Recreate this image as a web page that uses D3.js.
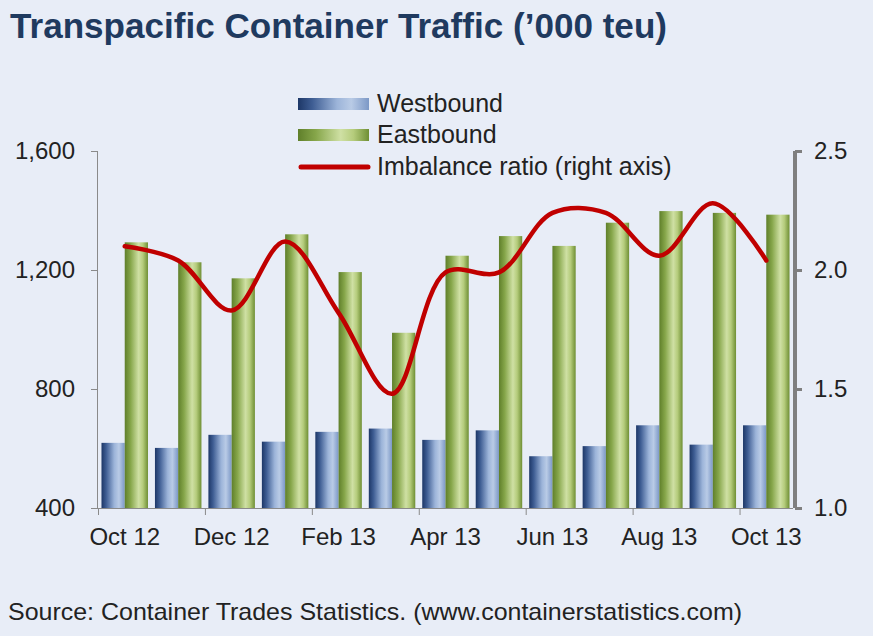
<!DOCTYPE html>
<html>
<head>
<meta charset="utf-8">
<script src="https://cdn.jsdelivr.net/npm/d3@7"></script>
<style>
  html, body { margin: 0; padding: 0; background: #e8edf7; }
  svg { display: block; font-family: "Liberation Sans", Arial, sans-serif; }
</style>
</head>
<body>
<div id="chart"></div>
<script>
var months = ["Oct 12", "Nov 12", "Dec 12", "Jan 13", "Feb 13", "Mar 13", "Apr 13",
              "May 13", "Jun 13", "Jul 13", "Aug 13", "Sep 13", "Oct 13"];
var westbound = [619, 602, 646, 623, 656, 667, 629, 661, 574, 608, 678, 613, 678];
var eastbound = [1293, 1226, 1172, 1320, 1193, 989, 1248, 1314, 1281, 1359, 1398, 1392, 1386];
var ratio = [2.10, 2.04, 1.83, 2.12, 1.82, 1.48, 1.99, 1.99, 2.24, 2.24, 2.06, 2.28, 2.04];
var leftTicks = [400, 800, 1200, 1600];
var rightTicks = [1.0, 1.5, 2.0, 2.5];
var series = ["Westbound", "Eastbound"];

var width = 873, height = 636;
var margin = {top: 151, right: 80, bottom: 128, left: 98},
    plotW = width - margin.left - margin.right,
    plotH = height - margin.top - margin.bottom;

var svg = d3.select("#chart")
  .append("svg")
    .attr("width", width)
    .attr("height", height);

svg.append("rect")
    .attr("width", width)
    .attr("height", height)
    .attr("fill", "#e8edf7");

// gradients for the bars
var defs = svg.append("defs");
function gradient(id, stops) {
  var g = defs.append("linearGradient")
      .attr("id", id)
      .attr("x1", "0%").attr("x2", "100%")
      .attr("y1", "0%").attr("y2", "0%");
  stops.forEach(function(s) {
    g.append("stop").attr("offset", s[0]).attr("stop-color", s[1]);
  });
}
gradient("gradW", [["0%", "#1d3767"], ["20%", "#3e5d93"], ["55%", "#9cb4d9"], ["75%", "#b9cbe6"], ["100%", "#7c98c6"]]);
gradient("gradE", [["0%", "#5f7f2a"], ["25%", "#86a64a"], ["60%", "#cfe0a4"], ["78%", "#b5cc7c"], ["100%", "#6f8f34"]]);

svg.append("text")
    .attr("x", 10)
    .attr("y", 38)
    .attr("font-weight", 700)
    .attr("fill", "#1f3a5f")
    .style("font-size", "35px")
    .attr("textLength", 657)
    .attr("lengthAdjust", "spacingAndGlyphs")
    .text("Transpacific Container Traffic (\u2019000 teu)");

var g = svg.append("g")
    .attr("transform", "translate(" + margin.left + "," + margin.top + ")");

var x = d3.scaleBand()
  .domain(months)
  .range([0, plotW])
  .padding(0);

var xSub = d3.scaleBand()
  .domain(series)
  .range([0, x.bandwidth()])
  .paddingInner(0)
  .paddingOuter(0.15);

var y = d3.scaleLinear()
  .domain([400, 1600])
  .range([plotH, 0]);

var y2 = d3.scaleLinear()
  .domain([1.0, 2.5])
  .range([plotH, 0]);

// bars
var groups = g.selectAll("g.month")
  .data(months)
  .enter()
  .append("g")
    .attr("class", "month")
    .attr("transform", function(d) { return "translate(" + x(d) + ",0)"; });

groups.append("rect")
    .attr("x", xSub("Westbound"))
    .attr("width", xSub.bandwidth())
    .attr("y", function(d, i) { return y(westbound[i]); })
    .attr("height", function(d, i) { return plotH - y(westbound[i]); })
    .attr("fill", "url(#gradW)");

groups.append("rect")
    .attr("x", xSub("Eastbound"))
    .attr("width", xSub.bandwidth())
    .attr("y", function(d, i) { return y(eastbound[i]); })
    .attr("height", function(d, i) { return plotH - y(eastbound[i]); })
    .attr("fill", "url(#gradE)");

// left axis
var leftAxis = g.append("g")
  .call(d3.axisLeft(y).tickValues(leftTicks).tickSize(7).tickPadding(16).tickFormat(d3.format(",")));
leftAxis.select(".domain").attr("stroke", "#8a8a8a").attr("d", "M-0.5," + plotH + "V0");
leftAxis.selectAll(".tick line").attr("stroke", "#8a8a8a");
leftAxis.selectAll("text")
    .attr("fill", "#222")
    .style("font-size", "24px")
    .style("font-family", "'Liberation Sans', Arial, sans-serif");

// bottom axis: tick marks between categories every two months
var xIdx = d3.scaleLinear().domain([0, months.length]).range([0, plotW]);
var bottomAxis = g.append("g")
    .attr("transform", "translate(0," + plotH + ")")
  .call(d3.axisBottom(xIdx).tickValues(d3.range(0, months.length, 2)).tickSize(7).tickFormat(""));
bottomAxis.select(".domain").attr("stroke", "#8a8a8a").attr("d", "M0,0.5H" + plotW);
bottomAxis.selectAll(".tick line").attr("stroke", "#8a8a8a");

var labelAxis = g.append("g")
    .attr("transform", "translate(0," + plotH + ")")
  .call(d3.axisBottom(x).tickValues(months.filter(function(d, i) { return i % 2 === 0; })).tickSize(0).tickPadding(20));
labelAxis.select(".domain").remove();
labelAxis.selectAll("text")
    .attr("fill", "#222")
    .style("font-size", "24px")
    .style("font-family", "'Liberation Sans', Arial, sans-serif");

// right axis
var rightAxis = g.append("g")
    .attr("transform", "translate(" + (plotW + 2) + ",0)")
  .call(d3.axisRight(y2).tickValues(rightTicks).tickSize(7).tickPadding(12).tickFormat(d3.format(".1f")));
rightAxis.select(".domain").attr("stroke", "#7f7f7f").attr("stroke-width", 4)
    .attr("d", "M0," + plotH + "V0");
rightAxis.selectAll(".tick line").attr("stroke", "#7f7f7f").attr("stroke-width", 3);
rightAxis.selectAll("text")
    .attr("fill", "#222")
    .style("font-size", "24px")
    .style("font-family", "'Liberation Sans', Arial, sans-serif");

// imbalance ratio line
var line = d3.line()
  .x(function(d, i) { return x(months[i]) + x.bandwidth() / 2; })
  .y(function(d) { return y2(d); })
  .curve(d3.curveCatmullRom.alpha(0.5));

g.append("path")
    .datum(ratio)
    .attr("fill", "none")
    .attr("stroke", "#c00000")
    .attr("stroke-width", 4.5)
    .attr("stroke-linejoin", "round")
    .attr("stroke-linecap", "round")
    .attr("d", line);

// legend
var legend = svg.append("g").attr("transform", "translate(298,0)");
var legendRows = [
  {label: "Westbound", y: 104, type: "rect", fill: "url(#gradW)"},
  {label: "Eastbound", y: 135, type: "rect", fill: "url(#gradE)"},
  {label: "Imbalance ratio (right axis)", y: 167, type: "line"}
];
legendRows.forEach(function(r) {
  if (r.type === "rect") {
    legend.append("rect")
        .attr("x", 0)
        .attr("y", r.y - 6)
        .attr("width", 71)
        .attr("height", 12)
        .attr("fill", r.fill);
  } else {
    legend.append("line")
        .attr("x1", 3).attr("x2", 70)
        .attr("y1", r.y).attr("y2", r.y)
        .attr("stroke", "#c00000")
        .attr("stroke-width", 5)
        .attr("stroke-linecap", "round");
  }
  legend.append("text")
      .attr("x", 79)
      .attr("y", r.y + 8)
      .attr("fill", "#222")
      .style("font-size", "25px")
      .text(r.label);
});

svg.append("text")
    .attr("x", 8)
    .attr("y", 620)
    .attr("fill", "#222")
    .style("font-size", "24px")
    .attr("textLength", 734)
    .attr("lengthAdjust", "spacingAndGlyphs")
    .text("Source: Container Trades Statistics. (www.containerstatistics.com)");
</script>
</body>
</html>
